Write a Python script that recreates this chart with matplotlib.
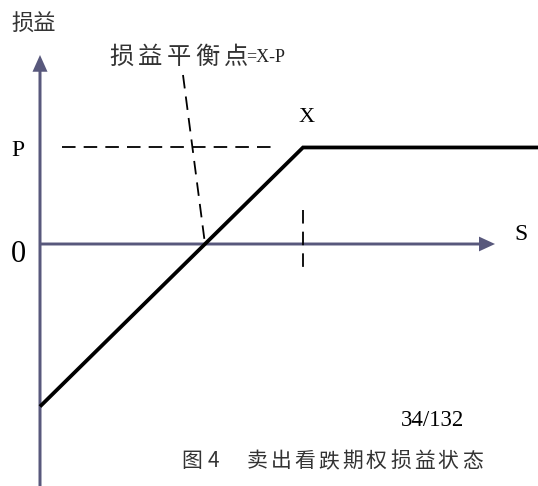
import numpy as np
import matplotlib
matplotlib.use("Agg")
import matplotlib.pyplot as plt

# short put payoff schematic (units ~ pixels of the original drawing)
strike = 263          # X
premium = 98          # P
s_max = 498
s_grid = [0, strike, s_max]
payoff = [premium - max(strike - s, 0) for s in s_grid]
breakeven = strike - premium

title_chars = list("损益平衡点")
caption_chars = list("卖出看跌期权损益状态")

axis_col = "#58587c"
serif = ["Liberation Serif", "Noto Sans CJK SC"]
cjk = ["Noto Sans CJK SC", "DejaVu Sans"]

# pixel-ish layout helpers: origin of the axes in the picture, y squeeze
ox, oy, ys = 40, 244, 0.985


def pos(px, py):
    return px - ox, (oy - py) / ys


fig = plt.figure(figsize=(5.38, 4.86), dpi=100)
ax = fig.add_axes([0, 0, 1, 1])
ax.set_xlim(-ox, 538 - ox)
ax.set_ylim((oy - 486) / ys, oy / ys)
ax.axis("off")

# axes with arrow heads
y_bot = pos(0, 486)[1]
y_top = pos(0, 55)[1]
ax.arrow(0, y_bot, 0, y_top - y_bot, width=3, head_width=15, head_length=17,
         length_includes_head=True, color=axis_col, lw=0)
ax.arrow(0, 0, 455, 0, width=3, head_width=15, head_length=16,
         length_includes_head=True, color=axis_col, lw=0)

# payoff line
ax.plot(s_grid, payoff, color="black", lw=2.7, solid_joinstyle="miter",
        solid_capstyle="butt")

# dashed guides
dash = dict(color="black", lw=1.3, dashes=(7.5, 4.5))
ax.plot([22, strike - 26], [premium, premium], **dash)
ax.plot([strike, strike], [35, -25], **dash)
ax.plot([pos(183, 75)[0], breakeven], [pos(183, 75)[1], 0], **dash)

# labels
ax.text(*pos(34, 24), "损益", family=cjk, fontsize=16, ha="center",
        va="center", color="#333333")
for i, ch in enumerate(title_chars):
    ax.text(*pos(121 + i * 28.7, 57), ch, family=cjk, fontsize=17.5,
            ha="center", va="center", color="#333333")
ax.text(*pos(246, 57), "=X-P", family=serif, fontsize=13, ha="left",
        va="center", color="#222222")
ax.text(*pos(307, 118), "X", family=serif, fontsize=16, ha="center",
        va="center")
ax.text(*pos(18, 150), "P", family=serif, fontsize=17, ha="center",
        va="center")
ax.text(*pos(18, 254), "0", family=serif, fontsize=22, ha="center",
        va="center")
ax.text(*pos(521, 234), "S", family=serif, fontsize=17, ha="center",
        va="center")
ax.text(*pos(432, 420), "34/132", family=serif, fontsize=16.5, ha="center",
        va="center")

ax.text(*pos(192, 461), "图", family=cjk, fontsize=15, ha="center",
        va="center", color="#333333")
ax.text(*pos(213, 461), "4", family=cjk, fontsize=15, ha="center",
        va="center", color="#333333")
for i, ch in enumerate(caption_chars):
    ax.text(*pos(257 + i * 23.9, 461), ch, family=cjk, fontsize=15,
            ha="center", va="center", color="#333333")

fig.savefig("out.png", dpi=100)
